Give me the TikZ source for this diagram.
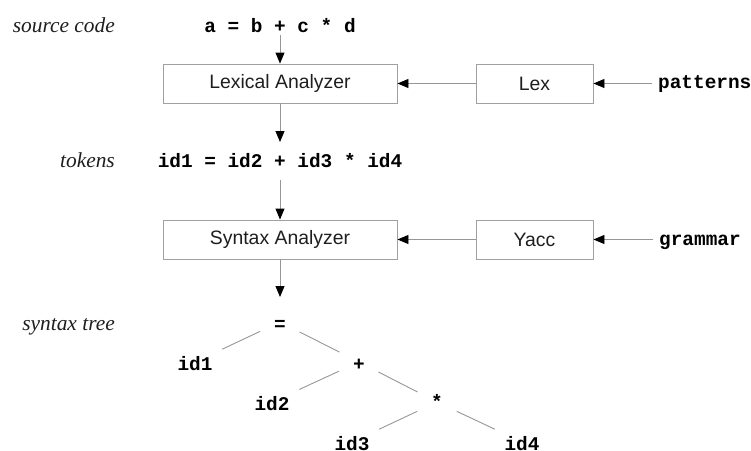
\documentclass[tikz,border=0pt]{standalone}
\usepackage{fontspec}
\setmainfont{Liberation Sans}
\setmonofont{Liberation Mono}
\newfontfamily\serifit{Liberation Serif}
\usetikzlibrary{arrows.meta}
\definecolor{linegray}{RGB}{150,150,150}
\definecolor{boxgray}{RGB}{160,160,160}
\definecolor{txt}{RGB}{30,30,30}
\begin{document}
\begin{tikzpicture}[x=1pt,y=-1pt,
  box/.style={draw=boxgray, line width=0.9pt, minimum height=39pt, inner sep=0pt,
    font=\fontsize{19.4}{23}\selectfont, text=txt},
  code/.style={font=\ttfamily\bfseries\fontsize{19.4}{23}\selectfont, inner sep=0pt, anchor=base},
  lbl/.style={font=\serifit\itshape\fontsize{21.4}{25}\selectfont, inner sep=0pt, anchor=base east, text=txt},
  arr/.style={draw=linegray, line width=0.9pt, -{Triangle[length=11pt,width=9pt,color=black]}},
  treeline/.style={draw=linegray, line width=0.9pt, shorten <=22pt}
]
\useasboundingbox (0,0) rectangle (751,450);
% labels
\node[lbl] (srclbl) at (115,32) {source code};
\node[lbl] (toklbl) at (115,167) {tokens};
\node[lbl] (treelbl) at (115,330) {syntax tree};
% pipeline
\node[code] (src) at (280,32) {a = b + c * d};
\node[box, minimum width=234pt] (lexan) at (280,83.5) {Lexical Analyzer};
\node[box, minimum width=117pt] (lex) at (534.5,83.5) {Lex};
\node[code, anchor=base west, inner xsep=6pt] (pat) at (652,88) {patterns};
\node[code] (tok) at (280,167) {id1 = id2 + id3 * id4};
\node[box, minimum width=234pt] (synan) at (280,239.5) {Syntax Analyzer};
\node[box, minimum width=117pt] (yacc) at (534.5,239.5) {Yacc};
\node[code, anchor=base west, inner xsep=6pt] (gram) at (653,245) {grammar};
% tree
\node[code] (eq) at (280,330) {=};
\node[code] (id1) at (195,370) {id1};
\node[code] (plus) at (359,370) {+};
\node[code] (id2) at (272,410) {id2};
\node[code] (star) at (437,408) {*};
\node[code] (id3) at (352,450) {id3};
\node[code] (id4) at (522,450) {id4};
% arrows
\draw[arr] ([yshift=-3pt]src.base) -- (lexan.north);
\draw[arr] (lex) -- (lexan);
\draw[arr] (pat.west |- lex.east) -- (lex.east);
\draw[arr] (lexan.south) -- ([yshift=25pt]tok.base);
\draw[arr] ([yshift=-13pt]tok.base) -- (synan.north);
\draw[arr] (yacc) -- (synan);
\draw[arr] (gram.west |- yacc.east) -- (yacc.east);
\draw[arr] (synan.south) -- ([yshift=33pt]eq.base);
% tree edges
\draw[treeline, shorten >=30pt] ([yshift=8pt]eq.base) -- ([yshift=8pt]id1.base);
\draw[treeline, shorten >=22pt] ([yshift=8pt]eq.base) -- ([yshift=8pt]plus.base);
\draw[treeline, shorten >=30pt] ([yshift=8pt]plus.base) -- ([yshift=8pt]id2.base);
\draw[treeline, shorten >=22pt] ([yshift=8pt]plus.base) -- ([yshift=6pt]star.base);
\draw[treeline, shorten >=30pt] ([yshift=6pt]star.base) -- ([yshift=8pt]id3.base);
\draw[treeline, shorten >=30pt] ([yshift=6pt]star.base) -- ([yshift=8pt]id4.base);
\end{tikzpicture}
\end{document}
